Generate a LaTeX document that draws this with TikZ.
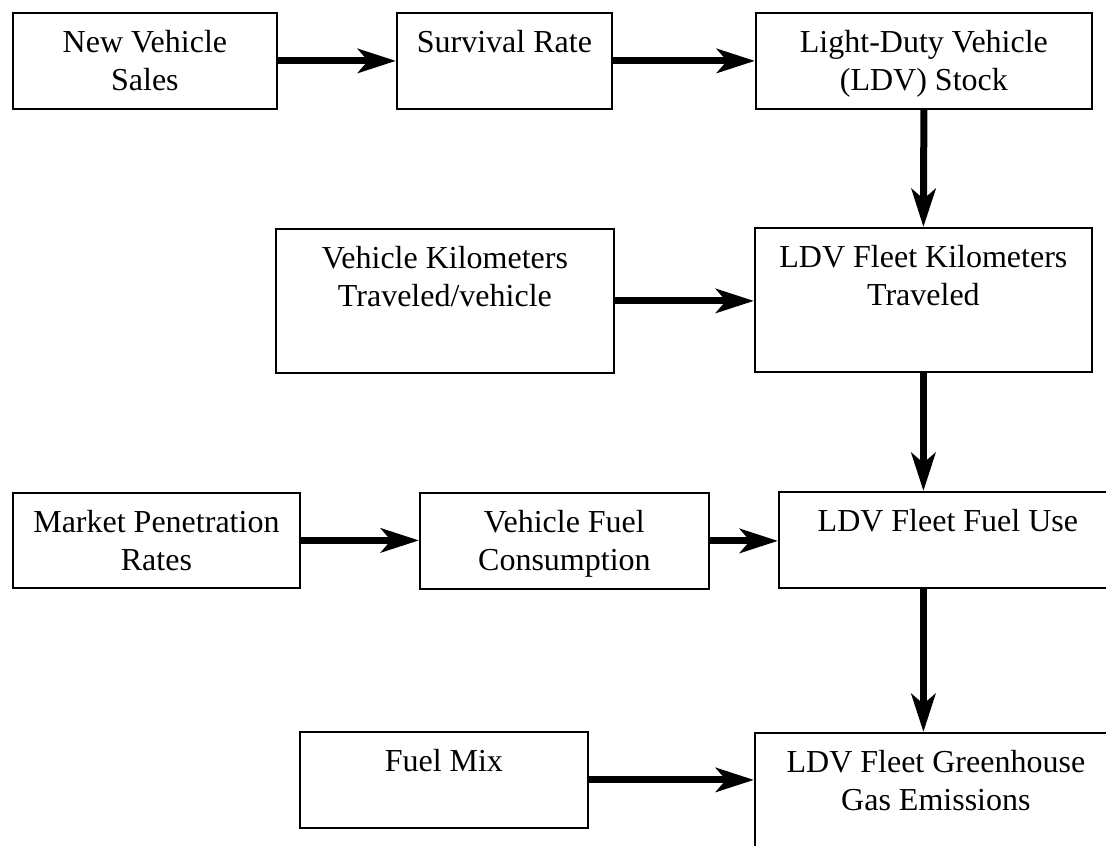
\documentclass[tikz,border=0pt]{standalone}
\usepackage{fontspec}
\setmainfont{Liberation Serif}
\usetikzlibrary{arrows.meta}

% box contents: fixed-size paragraph with the text set near the top
\newcommand\boxtxt[3]{\parbox[c][#2][t]{#1}{\centering\rule{0pt}{40pt}#3}}

\tikzset{
  flowbox/.style={draw=black, line width=1.8pt, inner sep=0pt, anchor=north west,
    font=\fontsize{32}{38}\selectfont},
  flowarrow/.style={line width=7pt,
    -{Stealth[length=38pt, width=24pt, inset=10pt]}}
}

\begin{document}
\begin{tikzpicture}[x=1pt, y=-1pt]
  \useasboundingbox (0,0) rectangle (1106,846);
  \clip (0,0) rectangle (1106,846);
  \fill[white] (0,0) rectangle (1106,846);

  % first row
  \node[flowbox] (sales) at (12,12) {\boxtxt{264pt}{96pt}{New Vehicle\\Sales}};
  \node[flowbox] (surv) at (396,12) {\boxtxt{215pt}{96pt}{Survival Rate}};
  \node[flowbox] (stock) at (755,12) {\boxtxt{336pt}{96pt}{Light-Duty Vehicle\\(LDV) Stock}};

  % second row
  \node[flowbox] (vkt) at (275,228) {\boxtxt{338pt}{144pt}{Vehicle Kilometers\\Traveled/vehicle}};
  \node[flowbox] (fleetkm) at (754,227) {\boxtxt{337pt}{144pt}{LDV Fleet Kilometers\\Traveled}};

  % third row
  \node[flowbox] (market) at (12,492) {\boxtxt{287pt}{95pt}{Market Penetration\\Rates}};
  \node[flowbox] (fuelcons) at (419,492) {\boxtxt{289pt}{96pt}{Vehicle Fuel\\Consumption}};
  \node[flowbox] (fuseuse) at (778,491) {\boxtxt{338pt}{96pt}{LDV Fleet Fuel Use}};

  % fourth row
  \node[flowbox] (mix) at (299,731) {\boxtxt{288pt}{96pt}{Fuel Mix}};
  \node[flowbox] (ghg) at (754,732) {\boxtxt{362pt}{150pt}{LDV Fleet Greenhouse\\Gas Emissions}};

  % connectors
  \draw[flowarrow] (sales.east) -- (surv.west);
  \draw[flowarrow] (surv.east) -- (stock.west);
  \draw[flowarrow] (stock.south) -- (fleetkm.north);
  \draw[flowarrow] (vkt.east) -- (vkt.east -| fleetkm.west);
  \draw[flowarrow] (fleetkm.south) -- (fleetkm.south |- fuseuse.north);
  \draw[flowarrow] (market.east) -- (market.east -| fuelcons.west);
  \draw[flowarrow] (fuelcons.east) -- (fuelcons.east -| fuseuse.west);
  \draw[flowarrow] (fleetkm.south |- fuseuse.south) -- (fleetkm.south |- ghg.north);
  \draw[flowarrow] (mix.east) -- (mix.east -| ghg.west);
\end{tikzpicture}
\end{document}
